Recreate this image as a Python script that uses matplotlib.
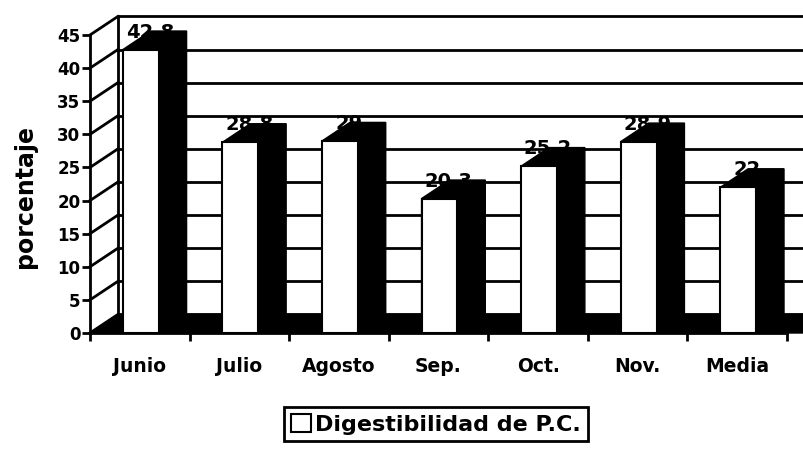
import matplotlib
matplotlib.use('Agg')
import matplotlib.pyplot as plt
from matplotlib.patches import Polygon, Rectangle, Patch

# datos
meses = ['Junio', 'Julio', 'Agosto', 'Sep.', 'Oct.', 'Nov.', 'Media']
digestibilidad = [42.8, 28.8, 29, 20.3, 25.2, 28.9, 22]
etiquetas = ['42.8', '28.8', '29', '20.3', '25.2', '28.9', '22']
yticks = list(range(0, 50, 5))

# profundidad del efecto 3D (en unidades de los ejes)
dx = 0.28
dy = 2.8
bar_w = 0.36

fig = plt.figure(figsize=(8.04, 4.5), dpi=100)
ax = fig.add_axes([90 / 804, 117 / 450, 697 / 804, 298 / 450])
ax.set_xlim(-0.5, 6.5)
ax.set_ylim(0, 45)

x0 = -0.5
x1 = len(meses) - 0.5

# pared del fondo (lineas de division)
for t in yticks:
    ax.plot([x0 + dx, x1 + dx + 0.3], [t + dy, t + dy], color='black', lw=2,
            clip_on=False, zorder=1)
    ax.plot([x0, x0 + dx], [t, t + dy], color='black', lw=2, clip_on=False, zorder=1)
ax.plot([x0 + dx, x0 + dx], [dy, yticks[-1] + dy], color='black', lw=2,
        clip_on=False, zorder=1)

# suelo
ax.add_patch(Polygon([(x0, 0), (x1 + 0.3, 0), (x1 + 0.3 + dx, dy), (x0 + dx, dy)],
                     closed=True, facecolor='black', edgecolor='black',
                     clip_on=False, zorder=2))

# barras
for i, v in enumerate(digestibilidad):
    l = i - 0.17
    r = l + bar_w
    ax.text(i + 0.1, v + dy - 1.0, etiquetas[i], ha='center', va='baseline',
            fontsize=14, fontweight='bold', zorder=3, clip_on=False)
    ax.add_patch(Polygon([(l, v), (l + dx, v + dy), (r + dx, v + dy), (r + dx, dy),
                          (r, 0), (l, 0)], closed=True, facecolor='black',
                         edgecolor='black', lw=1, clip_on=False, zorder=4))
    ax.add_patch(Rectangle((l, 0), bar_w, v, facecolor='white', edgecolor='black',
                           lw=1.5, clip_on=False, zorder=5))

# ejes
for s in ['top', 'right']:
    ax.spines[s].set_visible(False)
for s in ['left', 'bottom']:
    ax.spines[s].set_linewidth(2)
    ax.spines[s].set_zorder(6)

ax.set_yticks(yticks)
ax.set_yticklabels([str(t) for t in yticks], fontsize=12, fontweight='bold')
ax.tick_params(axis='y', length=6, width=2, pad=1)

ax.set_xticks(range(len(meses)))
ax.set_xticklabels(meses, fontsize=13.5, fontweight='bold')
ax.set_xticks([k - 0.5 for k in range(len(meses) + 1)], minor=True)
ax.tick_params(axis='x', which='major', length=0, pad=17)
ax.tick_params(axis='x', which='minor', length=6, width=2)

fig.text(25 / 804, 1 - 197 / 450, 'porcentaje', rotation=90, ha='center',
         va='center', fontsize=17, fontweight='bold')

handle = Patch(facecolor='white', edgecolor='black', lw=1.5)
leg = fig.legend([handle], ['Digestibilidad de P.C.'], loc='upper center',
                 bbox_to_anchor=(436 / 804, 1 - 407 / 450), borderaxespad=0,
                 frameon=True, fancybox=False, edgecolor='black', framealpha=1,
                 prop={'size': 16, 'weight': 'bold'}, handlelength=0.9,
                 handleheight=0.9, handletextpad=0.2, borderpad=0.3)
leg.get_frame().set_linewidth(2)

fig.savefig('out.png', dpi=100)
